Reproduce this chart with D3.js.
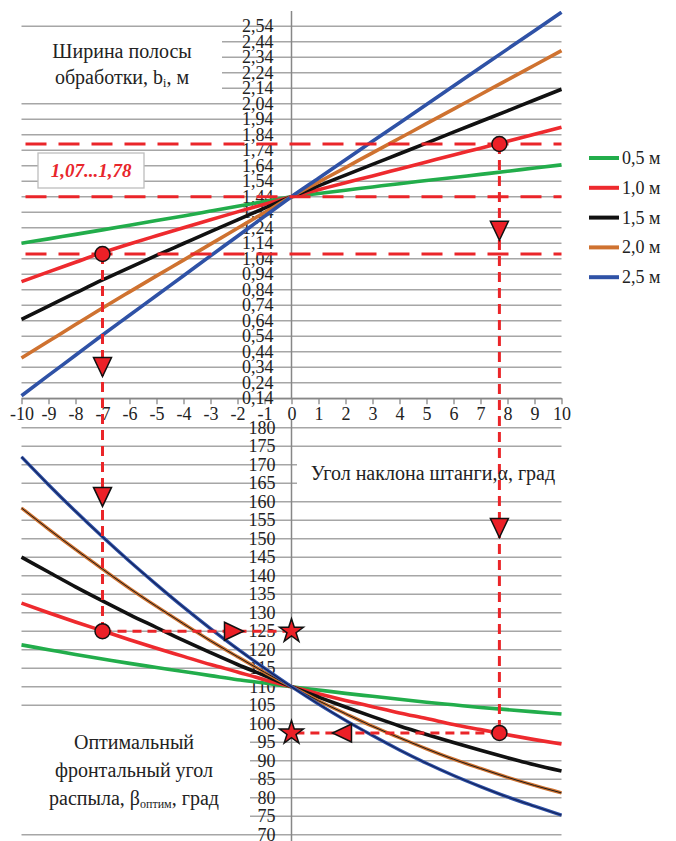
<!DOCTYPE html>
<html><head><meta charset="utf-8">
<script src="https://cdn.jsdelivr.net/npm/d3@7"></script>
<style>body{margin:0;background:#fff}svg{display:block}text{font-family:"Liberation Serif","Times New Roman",serif !important;}</style>
</head><body>
<svg id="c" width="676" height="841" font-family="Liberation Serif"></svg>
<script>
// ---------- DATA ----------
const alpha = [-10,-9,-8,-7,-6,-5,-4,-3,-2,-1,0,1,2,3,4,5,6,7,8,9,10];
const seriesNames = ["0,5 м","1,0 м","1,5 м","2,0 м","2,5 м"];
const seriesColors = ["#22ad4b","#ee2a2e","#111111","#cf7230","#2f52a6"];
const topTicks = [0.14,0.24,0.34,0.44,0.54,0.64,0.74,0.84,0.94,1.04,1.14,1.24,1.34,1.44,1.54,1.64,1.74,1.84,1.94,2.04,2.14,2.24,2.34,2.44,2.54];
const botTicks = [70,75,80,85,90,95,100,105,110,115,120,125,130,135,140,145,150,155,160,165,170,175,180];
// top chart: strip width b_i, m
const bW05 = [1.139,1.168,1.197,1.226,1.256,1.286,1.316,1.347,1.378,1.409,1.44,1.461,1.482,1.503,1.524,1.544,1.564,1.584,1.604,1.625,1.645];
const bW10 = [0.892,0.955,1.017,1.079,1.135,1.188,1.24,1.291,1.342,1.391,1.44,1.485,1.53,1.574,1.619,1.664,1.709,1.753,1.798,1.843,1.888];
const bW15 = [0.649,0.734,0.819,0.903,0.983,1.061,1.138,1.215,1.291,1.366,1.44,1.51,1.579,1.648,1.717,1.786,1.856,1.925,1.994,2.064,2.133];
const bW20 = [0.399,0.507,0.615,0.722,0.826,0.929,1.031,1.134,1.236,1.338,1.44,1.534,1.628,1.723,1.817,1.911,2.005,2.099,2.194,2.288,2.382];
const bW25 = [0.156,0.287,0.417,0.548,0.675,0.803,0.93,1.058,1.185,1.313,1.44,1.559,1.678,1.797,1.916,2.035,2.154,2.273,2.392,2.511,2.63];
// bottom chart: optimal frontal spray angle, deg
const beta05 = [121.3,120.0,118.7,117.5,116.3,115.2,114.1,113.0,111.9,111.0,110,109.1,108.2,107.4,106.6,105.8,105.1,104.4,103.8,103.2,102.6];
const beta10 = [132.6,130.0,127.5,125.1,122.7,120.4,118.2,116.0,114.0,111.9,110,108.1,106.3,104.6,102.9,101.4,99.8,98.4,97.0,95.7,94.5];
const beta15 = [145.0,141.0,137.0,133.2,129.5,126.0,122.5,119.2,116.0,113.0,110,107.2,104.5,101.9,99.4,97.1,94.9,92.8,90.8,88.9,87.2];
const beta20 = [158.3,152.6,147.1,141.8,136.6,131.7,127.0,122.4,118.1,113.9,110,106.2,102.7,99.3,96.2,93.2,90.4,87.9,85.5,83.3,81.3];
const beta25 = [172.1,164.6,157.4,150.5,143.9,137.6,131.5,125.7,120.2,115.0,110,105.3,100.9,96.8,92.9,89.3,86.0,83.0,80.2,77.7,75.3];
// annotation values
const topLevels = [1.78, 1.44, 1.07];
const topPoints = [{a:-7,v:1.07},{a:7.7,v:1.78}];
const botPoints = [{a:-7,v:125},{a:7.7,v:97.5}];
const topArrows = [{a:-7,v:0.341},{a:7.7,v:1.22}];
const botArrowsDown = [{a:-7,v:161.3},{a:7.7,v:152.9}];
const botArrowsSide = [{a:-2.13,v:125,dir:"right"},{a:1.87,v:97.5,dir:"left"}];
const stars = [{a:0,v:125},{a:0,v:97.5}];
const rangeLabel = "1,07...1,78";

// ---------- LAYOUT ----------
const FONT = "Liberation Serif";
const svg = d3.select("#c");
const L = 21.5, R = 561.5;
const x = d3.scaleLinear().domain([-10,10]).range([L,R]);
const yT = d3.scaleLinear().domain([0.14,2.625]).range([398.2,13]);
const yB = d3.scaleLinear().domain([70,180]).range([834.7,427.7]);
const fmt = v => d3.format(".2f")(v).replace(".", ",");
const gridCol = "#a6a6a6", axisCol = "#878787", dashRed = "#ea2529";

// gridlines
svg.append("g").selectAll("line").data(topTicks).join("line")
  .attr("x1",L).attr("x2",R).attr("y1",d=>yT(d)).attr("y2",d=>yT(d))
  .attr("stroke",gridCol).attr("stroke-width",1.4);
svg.append("g").selectAll("line").data(botTicks).join("line")
  .attr("x1",L).attr("x2",R).attr("y1",d=>yB(d)).attr("y2",d=>yB(d))
  .attr("stroke",gridCol).attr("stroke-width",1.4);

// white boxes behind titles
const boxes = [[20,33,202,64],[20,712,230,118],[297,455,268,37]];
svg.append("g").selectAll("rect").data(boxes).join("rect")
  .attr("x",d=>d[0]).attr("y",d=>d[1]).attr("width",d=>d[2]).attr("height",d=>d[3]).attr("fill","#fff");

// axes
const x0 = x(0);
svg.append("line").attr("x1",x0).attr("x2",x0).attr("y1",11).attr("y2",398.2).attr("stroke",axisCol).attr("stroke-width",1.5);
svg.append("line").attr("x1",x0).attr("x2",x0).attr("y1",420).attr("y2",841).attr("stroke",axisCol).attr("stroke-width",1.5);

function styleText(g){
  g.attr("font-family",FONT).attr("font-size",18);
  g.selectAll("text").attr("font-size",18).attr("fill","#222").style("font-family",FONT);
}
const xAxis = svg.append("g").attr("transform","translate(0,398.2)")
  .call(d3.axisBottom(x).tickValues(alpha).tickSizeInner(6).tickSizeOuter(0).tickPadding(3).tickFormat(d=>String(d)));
xAxis.select(".domain").attr("stroke",axisCol).attr("stroke-width",1.5);
xAxis.selectAll(".tick line").attr("stroke",axisCol).attr("stroke-width",1.3);
styleText(xAxis);

const yAxT = svg.append("g").attr("transform",`translate(${x0},0)`)
  .call(d3.axisLeft(yT).tickValues(topTicks).tickSize(0).tickPadding(18).tickFormat(fmt));
yAxT.select(".domain").remove();
styleText(yAxT);

const yAxB = svg.append("g").attr("transform",`translate(${x0},0)`)
  .call(d3.axisLeft(yB).tickValues(botTicks).tickSize(0).tickPadding(16).tickFormat(d=>String(d)));
yAxB.select(".domain").remove();
styleText(yAxB);

// clip for top chart
svg.append("clipPath").attr("id","clipT").append("rect").attr("x",L-2).attr("y",11).attr("width",R-L+4).attr("height",398.2-11);

// curves
const topSeries = [bW05,bW10,bW15,bW20,bW25];
const botSeries = [beta05,beta10,beta15,beta20,beta25];
const lineT = d3.line().x((d,i)=>x(alpha[i])).y(d=>yT(d)).curve(d3.curveMonotoneX);
const lineB = d3.line().x((d,i)=>x(alpha[i])).y(d=>yB(d)).curve(d3.curveMonotoneX);
svg.append("g").attr("clip-path","url(#clipT)").selectAll("path").data(topSeries).join("path")
  .attr("d",lineT).attr("fill","none").attr("stroke",(d,i)=>seriesColors[i]).attr("stroke-width",3.6);
const gB = svg.append("g");
botSeries.forEach((s,i)=>{
  gB.append("path").attr("d",lineB(s)).attr("fill","none").attr("stroke",seriesColors[i]).attr("stroke-width",i>=3?3.4:3.6);
  if(i===3) gB.append("path").attr("d",lineB(s)).attr("fill","none").attr("stroke","#1a1a1a").attr("stroke-width",1.0);
  if(i===4) gB.append("path").attr("d",lineB(s)).attr("fill","none").attr("stroke","#14235e").attr("stroke-width",1.2);
});

// dashed guide lines
const gD = svg.append("g").attr("stroke",dashRed).attr("stroke-width",3).attr("fill","none");
topLevels.forEach(v=>{
  gD.append("line").attr("x1",L+4).attr("x2",R).attr("y1",yT(v)).attr("y2",yT(v)).attr("stroke-dasharray","21,12");
});
topPoints.forEach((p,i)=>{
  gD.append("line").attr("x1",x(p.a)).attr("x2",x(p.a)).attr("y1",yT(p.v)).attr("y2",yB(botPoints[i].v)).attr("stroke-dasharray","10,6");
  gD.append("line").attr("x1",x(botPoints[i].a)).attr("x2",x(0)).attr("y1",yB(botPoints[i].v)).attr("y2",yB(botPoints[i].v)).attr("stroke-dasharray","9,6");
});

// triangles
function tri(cx,cy,rot){
  const p = "M-9,-9.5L9,-9.5L0,9.5Z";
  svg.append("path").attr("d",p).attr("transform",`translate(${cx},${cy}) rotate(${rot})`)
    .attr("fill","#ec2027").attr("stroke","#111").attr("stroke-width",1.5).attr("stroke-linejoin","miter");
}
topArrows.forEach(p=>tri(x(p.a),yT(p.v),0));
botArrowsDown.forEach(p=>tri(x(p.a),yB(p.v),0));
botArrowsSide.forEach(p=>tri(x(p.a),yB(p.v),p.dir==="right"?-90:90));

// circles
const circ = topPoints.map(p=>[x(p.a),yT(p.v)]).concat(botPoints.map(p=>[x(p.a),yB(p.v)]));
svg.append("g").selectAll("circle").data(circ).join("circle")
  .attr("cx",d=>d[0]).attr("cy",d=>d[1]).attr("r",7.5)
  .attr("fill","#ec2027").attr("stroke","#111").attr("stroke-width",1.5);

// stars
const starPath = d3.symbol().type(d3.symbolStar).size(175)();
svg.append("g").selectAll("path").data(stars).join("path")
  .attr("d",starPath).attr("transform",d=>`translate(${x(d.a)},${yB(d.v)})`)
  .attr("fill","#ec2027").attr("stroke","#111").attr("stroke-width",1.5);

// range annotation box
svg.append("rect").attr("x",38).attr("y",153).attr("width",106).attr("height",35)
  .attr("fill","#fff").attr("stroke","#bdbdbd").attr("stroke-width",1.3);
svg.append("text").attr("x",91).attr("y",177).attr("text-anchor","middle").attr("font-family",FONT)
  .attr("font-size",19).attr("font-weight","bold").attr("font-style","italic").attr("fill","#e8262b").text(rangeLabel);

// titles
const t1 = svg.append("text").attr("text-anchor","middle").attr("font-family",FONT).attr("font-size",20).attr("fill","#222");
t1.append("tspan").attr("x",122).attr("y",58).text("Ширина полосы");
t1.append("tspan").attr("x",122).attr("y",84).text("обработки, b");
t1.append("tspan").attr("font-size",12).attr("dy",3).text("i");
t1.append("tspan").attr("dy",-3).text(", м");

svg.append("text").attr("x",433).attr("y",480).attr("text-anchor","middle").attr("font-family",FONT).attr("font-size",20).attr("fill","#222")
  .text("Угол наклона штанги,α, град");

const t3 = svg.append("text").attr("text-anchor","middle").attr("font-family",FONT).attr("font-size",20).attr("fill","#222");
t3.append("tspan").attr("x",134).attr("y",749).text("Оптимальный");
t3.append("tspan").attr("x",134).attr("y",777).text("фронтальный угол");
t3.append("tspan").attr("x",134).attr("y",805).text("распыла, β");
t3.append("tspan").attr("font-size",12).attr("dy",3).text("оптим");
t3.append("tspan").attr("dy",-3).text(", град");

// legend
const lg = svg.append("g");
seriesNames.forEach((n,i)=>{
  const yy = 158 + i*29.8;
  lg.append("line").attr("x1",589).attr("x2",619).attr("y1",yy).attr("y2",yy).attr("stroke",seriesColors[i]).attr("stroke-width",4);
  lg.append("text").attr("x",622).attr("y",yy+6).attr("font-family",FONT).attr("font-size",18).attr("fill","#222").text(n);
});
</script>
</body></html>
